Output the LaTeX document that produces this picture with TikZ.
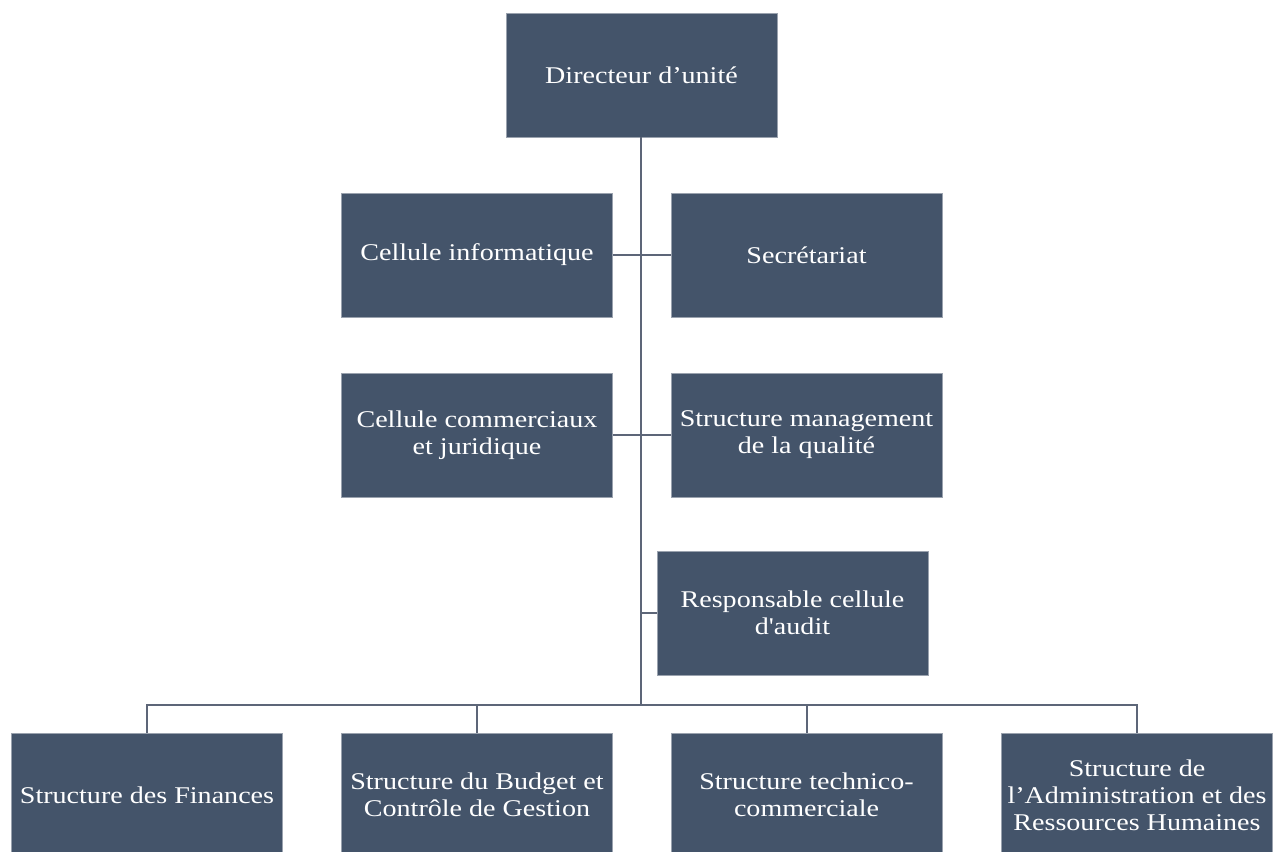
\documentclass[tikz,border=0pt]{standalone}
\usepackage{fontspec}
\setmainfont{Liberation Serif}[FakeStretch=1.17]
% same face without the TeX quote mapping, for a straight apostrophe
\newfontfamily\straightquote{Liberation Serif}[FakeStretch=1.17,Ligatures=TeXOff]
\definecolor{boxfill}{HTML}{44546A}
\definecolor{boxedge}{HTML}{9AA2AE}
\definecolor{linkcol}{HTML}{5D6678}
\begin{document}
\begin{tikzpicture}[x=1pt,y=-1pt,
  unitbox/.style={draw=boxedge,line width=0.8pt,fill=boxfill,text=white,
    minimum width=271pt,minimum height=124pt,inner sep=0pt,align=center,
    font=\fontsize{24}{27}\selectfont},
  link/.style={draw=linkcol,line width=2pt}]
\clip (0,0) rectangle (1273,851);
\fill[white] (0,0) rectangle (1273,851);
% top
\node[unitbox] (dir) at (641.5,75) {Directeur d’unité};
% staff cells
\node[unitbox] (info) at (477,255) {Cellule informatique};
\node[unitbox] (secr) at (806.5,255) {Secrétariat};
\node[unitbox] (comm) at (477,435) {Cellule commerciaux\\et juridique};
\node[unitbox] (qual) at (806.5,435) {Structure management\\de la qualité};
\node[unitbox] (audit) at (792.5,613) {Responsable cellule\\d{\straightquote '}audit};
% structures
\node[unitbox] (fin) at (147,795) {Structure des Finances};
\node[unitbox] (budg) at (477,795) {Structure du Budget et\\Contrôle de Gestion};
\node[unitbox] (tech) at (806.5,795) {Structure technico-\\commerciale};
\node[unitbox] (adm) at (1137,795) {Structure de\\l’Administration et des\\Ressources Humaines};
% trunk and branches
\coordinate (trunk) at (641,705);
\draw[link] (dir.south) ++(-0.5,0) -- (trunk);
\draw[link] (info.east) -- (secr.west);
\draw[link] (comm.east) -- (qual.west);
\draw[link] (641,613) -- (audit.west);
\draw[link] (fin.north) |- (trunk) -| (adm.north);
\draw[link] (budg.north) -- (budg.north |- trunk);
\draw[link] (tech.north) -- (tech.north |- trunk);
\end{tikzpicture}
\end{document}
